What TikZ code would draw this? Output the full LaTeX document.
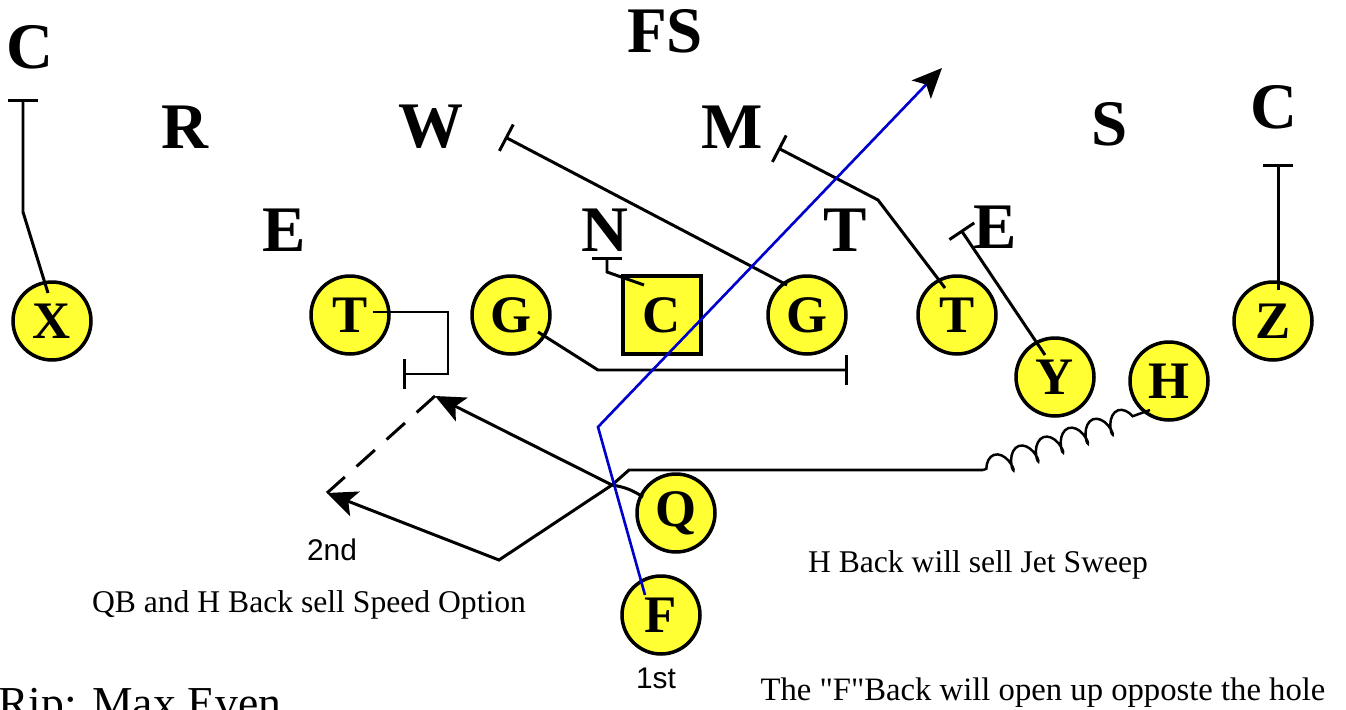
\documentclass[tikz,border=0pt]{standalone}
\usepackage{fontspec}
\setmainfont{Liberation Serif}
\newfontfamily\sansf{Liberation Sans}
\newfontfamily\plainserif{Liberation Serif}[Ligatures=TeXOff]
\usetikzlibrary{arrows.meta,decorations.pathmorphing}
\definecolor{pyellow}{RGB}{255,255,51}
\definecolor{pblue}{RGB}{0,0,204}
\tikzset{
 player/.style={circle, draw, line width=2pt, fill=pyellow, minimum size=1.56cm, inner sep=0pt, font=\fontsize{30}{32}\selectfont\bfseries},
 defn/.style={font=\fontsize{37}{40}\selectfont\bfseries, inner sep=0pt},
 route/.style={line width=1.7pt, line join=miter},
 block/.style={route, -{Bar[width=17pt, line width=1.7pt]}},
 runarrow/.style={route, -{Stealth[length=17pt, width=15pt, inset=4pt, color=black]}},
 note/.style={font=\fontsize{18}{20}\selectfont, inner sep=0pt, anchor=base},
 snote/.style={font=\sansf\fontsize{17}{19}\selectfont, inner sep=0pt, anchor=base},
}
\begin{document}
\begin{tikzpicture}[x=0.02cm, y=-0.02cm]
\path[use as bounding box] (0,0) rectangle (1346,710);
\clip (0,0) rectangle (1346,710);

% defense
\node[defn] (CL) at (30,47) {C};
\node[defn] (FS) at (665,31) {FS};
\node[defn] (R) at (185,127) {R};
\node[defn] (W) at (431,127) {W};
\node[defn] (M) at (732,127) {M};
\node[defn] (S) at (1110,124) {S};
\node[defn] (CR) at (1274,107) {C};
\node[defn] (E1) at (284,230) {E};
\node[defn] (N) at (605,230) {N};
\node[defn] (T) at (845,230) {T};
\node[defn] (E2) at (995,227) {E};

% offense
\node[player] (X) at (52,321) {X};
\node[player] (LT) at (350,315) {T};
\node[player] (LG) at (511,315) {G};
\node[player, rectangle] (C) at (662,315) {C};
\node[player] (RG) at (807,315) {G};
\node[player] (RT) at (957,315) {T};
\node[player] (Y) at (1055,377) {Y};
\node[player] (H) at (1169,381) {H};
\node[player] (Z) at (1273,321) {Z};
\node[player] (Q) at (676,513) {Q};
\node[player] (F) at (661,615) {F};

% route points
\coordinate (xs) at (48,293); \coordinate (x1) at (23,212); \coordinate (xe) at (23,99);
\coordinate (lts) at (373,312); \coordinate (lt1) at (448,312); \coordinate (lt2) at (448,374); \coordinate (lte) at (403,374);
\coordinate (lgs) at (538,332); \coordinate (lg1) at (598,370); \coordinate (lge) at (848,370);
\coordinate (cs) at (644,285); \coordinate (c1) at (607,272); \coordinate (ce) at (607,257);
\coordinate (rgs) at (787,285); \coordinate (rge) at (505,137);
\coordinate (rts) at (945,288); \coordinate (rt1) at (878,200); \coordinate (rte) at (778,148);
\coordinate (ys) at (1045,355); \coordinate (ye) at (961,230);
\coordinate (zs) at (1278,290); \coordinate (ze) at (1278,164);
\coordinate (fs) at (645,595); \coordinate (f1) at (598,427); \coordinate (fe) at (942,68);
\coordinate (hs) at (1150,410); \coordinate (hc) at (983,470); \coordinate (h1) at (629,470);
\coordinate (k) at (612,485); \coordinate (h2) at (499,560); \coordinate (h3) at (327,493);
\coordinate (qs) at (643,497); \coordinate (qe) at (435,396);

% blocks
\draw[block] (xs) -- (x1) -- (xe);
\draw[block] (lts) -- (lt1) -- (lt2) -- (lte);
\draw[block] (lgs) -- (lg1) -- (lge);
\draw[block] (cs) -- (c1) -- (ce);
\draw[block] (rgs) -- (rge);
\draw[block] (rts) -- (rt1) -- (rte);
\draw[block] (ys) -- (ye);
\draw[block] (zs) -- (ze);

% backfield
\draw[line width=1.4pt, decorate, decoration={coil, aspect=0.5, segment length=15pt, amplitude=6pt, pre length=2pt, post length=2pt}] (hc) -- (hs);
\draw[runarrow] (hc) -- (h1) -- (k) -- (h2) -- (h3);
\draw[runarrow] (qs) to[bend right=12] (k) -- (qe);
\draw[route, dashed, dash pattern=on 14pt off 9pt] (qe) -- (h3);
\draw[line width=1.5pt, pblue, -{Stealth[length=17pt, width=15pt, inset=4pt, color=black]}] (fs) -- (f1) -- (fe);

% notes
\node[snote] (t2) at (332,560) {2nd};
\node[snote] (t1) at (656,688) {1st};
\node[note] (n1) at (309,612) {QB and H Back sell Speed Option};
\node[note] (n2) at (978,572) {H Back will sell Jet Sweep};
\node[note, font=\fontsize{18.6}{20}\selectfont\plainserif] (n3) at (1043,700) {The "F"Back will open up opposte the hole};
\node[note, anchor=base west, font=\fontsize{26}{28}\selectfont] (rip) at (-2,718) {Rip: Max Even};
\end{tikzpicture}
\end{document}
